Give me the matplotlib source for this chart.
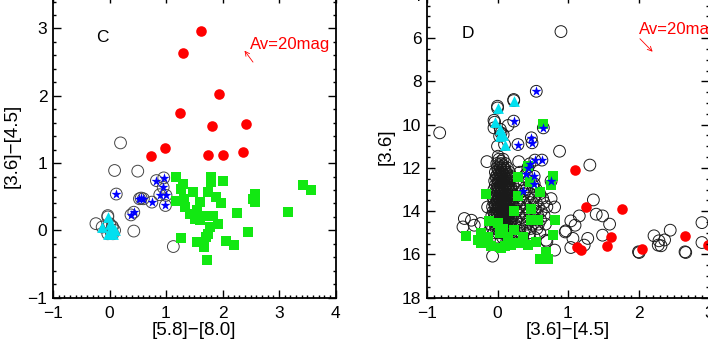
import matplotlib
matplotlib.use('Agg')
import matplotlib.pyplot as plt
from matplotlib.ticker import MultipleLocator

plt.rcParams['font.family'] = ['Liberation Sans', 'DejaVu Sans']

# ---------------------------------------------------------------
# Panel C: [5.8]-[8.0] vs [3.6]-[4.5]
# ---------------------------------------------------------------
c_red_x = [1.62, 1.30, 1.94, 1.24, 1.82, 2.41, 0.99, 0.74, 1.75, 2.00, 2.36]
c_red_y = [2.96, 2.63, 2.03, 1.74, 1.55, 1.58, 1.23, 1.10, 1.12, 1.12, 1.16]

c_open_x = [0.195, 0.09, 0.50, 0.43, 1.13, -0.24, -0.03, 0.05]
c_open_y = [1.30, 0.89, 0.88, -0.01, -0.24, 0.10, 0.22, 0.05]

c_star_x = [0.12, 0.83, 0.96, 0.95, 0.89, 1.00, 0.99, 0.53, 0.60, 0.75, 0.38, 0.43, 0.56]
c_star_y = [0.54, 0.74, 0.78, 0.64, 0.53, 0.52, 0.37, 0.47, 0.47, 0.42, 0.23, 0.27, 0.48]

c_tri_x = [-0.03, -0.13, 0.00, 0.03, 0.09, 0.06, -0.03, 0.05]
c_tri_y = [0.20, 0.05, 0.10, -0.03, 0.00, -0.05, -0.05, 0.06]

c_sq_x = [1.18, 1.79, 2.00, 1.80, 1.27, 1.48, 1.74, 1.89, 1.98, 2.57, 2.57, 2.54,
          1.18, 1.33, 1.54, 1.42, 1.51, 1.67, 1.83, 1.92, 1.77, 1.74, 1.71, 2.25,
          2.45, 1.27, 1.54, 1.68, 2.06, 2.20, 1.73, 3.16, 3.42, 3.56, 1.30, 1.60,
          1.60, 1.31]
c_sq_y = [0.79, 0.80, 0.74, 0.72, 0.62, 0.57, 0.57, 0.49, 0.40, 0.54, 0.42, 0.47,
          0.44, 0.35, 0.30, 0.25, 0.17, 0.22, 0.22, 0.10, 0.05, -0.05, -0.10, 0.26,
          -0.02, -0.12, -0.17, -0.24, -0.16, -0.22, -0.44, 0.27, 0.68, 0.60, 0.69, 0.42,
          0.15, 0.47]

# ---------------------------------------------------------------
# Panel D: [3.6]-[4.5] vs [3.6]
# ---------------------------------------------------------------
d_red_x = [1.10, 1.25, 1.76, 1.61, 1.56, 1.13, 1.18, 2.05, 2.66, 2.98]
d_red_y = [12.11, 13.81, 13.88, 15.19, 15.63, 15.65, 15.79, 15.76, 15.17, 15.57]

d_open_x = [0.90, -0.82, 0.88, 1.31, -0.15, 0.30, 1.36, 1.40, 1.49, 1.59,
            1.16, 1.04, 1.10, 0.97, 1.07, 1.28, 1.49, 1.23, 1.04, 2.22,
            2.29, 2.37, 2.32, 2.45, 2.01, 2.67, 2.90, 2.90, 0.96, 2.66,
            2.00, 2.28, -0.07, -0.47, -0.49, -0.37, -0.24, -0.14, -0.33, 0.81,
            0.76, 0.81, 0.69, 0.00, -0.05, -0.05, 0.15, 0.00, 0.01, 0.23]
d_open_y = [5.70, 10.38, 11.23, 11.87, 11.71, 11.71, 13.48, 14.14, 14.22, 14.60,
            14.22, 14.45, 14.65, 14.91, 15.26, 15.26, 15.11, 15.57, 15.68, 15.14,
            15.37, 15.33, 15.60, 14.88, 15.91, 15.91, 14.53, 15.45, 14.96, 15.88,
            15.88, 15.57, 16.08, 14.34, 14.73, 14.42, 14.57, 13.81, 14.65, 13.81,
            13.42, 15.80, 15.34, 9.15, 9.80, 10.15, 10.04, 11.00, 11.46, 8.84]

# dense clump of field sources near zero colour
d_clump_x = [0.02, 0.08,
             -0.01, 0.05, 0.11,
             0.00, 0.04, 0.09, 0.14,
             -0.03, 0.03, 0.07, 0.12, 0.17, 0.32,
             -0.02, 0.02, 0.06, 0.10, 0.15, 0.20, 0.38,
             -0.04, 0.01, 0.05, 0.09, 0.13, 0.18, 0.26, 0.44,
             -0.03, 0.00, 0.04, 0.08, 0.12, 0.16, 0.22, 0.31, 0.50,
             -0.05, -0.01, 0.03, 0.07, 0.11, 0.15, 0.19, 0.27, 0.41, 0.55,
             -0.04, 0.00, 0.04, 0.08, 0.12, 0.16, 0.21, 0.30, 0.38, 0.47, 0.60,
             -0.06, -0.02, 0.02, 0.06, 0.10, 0.14, 0.18, 0.24, 0.34, 0.43, 0.52, 0.64,
             -0.05, -0.01, 0.03, 0.07, 0.11, 0.15, 0.20, 0.28, 0.37, 0.46, 0.55, 0.66,
             -0.07, -0.03, 0.01, 0.05, 0.09, 0.13, 0.17, 0.23, 0.32, 0.41, 0.50, 0.58, 0.70,
             -0.06, -0.02, 0.02, 0.06, 0.10, 0.14, 0.19, 0.27, 0.36, 0.45, 0.53, 0.62,
             -0.08, -0.04, 0.00, 0.04, 0.08, 0.12, 0.16, 0.22, 0.31, 0.40, 0.49, 0.57, 0.66,
             -0.06, -0.02, 0.03, 0.07, 0.11, 0.15, 0.20, 0.26, 0.35, 0.44, 0.52, 0.61,
             -0.10, -0.04, 0.01, 0.05, 0.09, 0.13, 0.18, 0.24, 0.33, 0.42, 0.50, 0.58, 0.68,
             -0.07, -0.02, 0.03, 0.08, 0.14, 0.21, 0.30, 0.39, 0.47, 0.56,
             -0.05, 0.01, 0.06, 0.12, 0.19, 0.28, 0.37, 0.46, 0.60,
             0.00, 0.07, 0.15, 0.25, 0.35, 0.52,
             0.05, 0.13, 0.22, 0.33, 0.70,
             0.05, 0.03, 0.08, 0.01, 0.06, 0.11, 0.00, 0.05, 0.09, 0.14,
             -0.01, 0.04, 0.08, 0.12, 0.17, 0.02, 0.06, 0.10, 0.14,
             0.01, 0.05, 0.10, 0.14, 0.19, 0.01, 0.05, 0.09, 0.13, 0.17,
             -0.02, 0.02, 0.06, 0.10, 0.14, 0.19, 0.00, 0.04, 0.08, 0.12, 0.16,
             -0.03, 0.01, 0.05, 0.09, 0.13, 0.18, 0.00, 0.04, 0.08, 0.12, 0.16,
             -0.04, 0.00, 0.04, 0.08, 0.12, 0.17, 0.01, 0.05, 0.09, 0.13, 0.18,
             -0.03, 0.02, 0.06, 0.10, 0.14, 0.00, 0.05, 0.10, 0.16, 0.02, 0.09, 0.17]
d_clump_y = [11.6, 11.6,
             11.8, 11.8, 11.8,
             12.0, 12.0, 12.0, 12.0,
             12.2, 12.2, 12.2, 12.2, 12.2, 12.2,
             12.4, 12.4, 12.4, 12.4, 12.4, 12.4, 12.4,
             12.6, 12.6, 12.6, 12.6, 12.6, 12.6, 12.6, 12.6,
             12.8, 12.8, 12.8, 12.8, 12.8, 12.8, 12.8, 12.8, 12.8,
             13.0, 13.0, 13.0, 13.0, 13.0, 13.0, 13.0, 13.0, 13.0, 13.0,
             13.2, 13.2, 13.2, 13.2, 13.2, 13.2, 13.2, 13.2, 13.2, 13.2, 13.2,
             13.4, 13.4, 13.4, 13.4, 13.4, 13.4, 13.4, 13.4, 13.4, 13.4, 13.4, 13.4,
             13.6, 13.6, 13.6, 13.6, 13.6, 13.6, 13.6, 13.6, 13.6, 13.6, 13.6, 13.6,
             13.8, 13.8, 13.8, 13.8, 13.8, 13.8, 13.8, 13.8, 13.8, 13.8, 13.8, 13.8, 13.8,
             14.0, 14.0, 14.0, 14.0, 14.0, 14.0, 14.0, 14.0, 14.0, 14.0, 14.0, 14.0,
             14.2, 14.2, 14.2, 14.2, 14.2, 14.2, 14.2, 14.2, 14.2, 14.2, 14.2, 14.2, 14.2,
             14.4, 14.4, 14.4, 14.4, 14.4, 14.4, 14.4, 14.4, 14.4, 14.4, 14.4, 14.4,
             14.6, 14.6, 14.6, 14.6, 14.6, 14.6, 14.6, 14.6, 14.6, 14.6, 14.6, 14.6, 14.6,
             14.8, 14.8, 14.8, 14.8, 14.8, 14.8, 14.8, 14.8, 14.8, 14.8,
             15.0, 15.0, 15.0, 15.0, 15.0, 15.0, 15.0, 15.0, 15.0,
             15.2, 15.2, 15.2, 15.2, 15.2, 15.2,
             15.4, 15.4, 15.4, 15.4, 15.4,
             11.7, 11.9, 11.9, 12.1, 12.1, 12.1, 12.3, 12.3, 12.3, 12.3,
             12.5, 12.5, 12.5, 12.5, 12.5, 12.7, 12.7, 12.7, 12.7,
             12.9, 12.9, 12.9, 12.9, 12.9, 13.1, 13.1, 13.1, 13.1, 13.1,
             13.3, 13.3, 13.3, 13.3, 13.3, 13.3, 13.5, 13.5, 13.5, 13.5, 13.5,
             13.7, 13.7, 13.7, 13.7, 13.7, 13.7, 13.9, 13.9, 13.9, 13.9, 13.9,
             14.1, 14.1, 14.1, 14.1, 14.1, 14.1, 14.3, 14.3, 14.3, 14.3, 14.3,
             14.5, 14.5, 14.5, 14.5, 14.5, 14.7, 14.7, 14.7, 14.7, 14.9, 14.9, 14.9]

d_star_x = [0.55, 0.29, 0.23, 0.48, 0.49, 0.65, 0.53, 0.63, 0.46, 0.41,
            0.52, 0.52, 0.76, 0.36, 0.43]
d_star_y = [8.46, 10.92, 9.84, 10.61, 10.84, 10.15, 11.64, 11.64, 11.81, 12.27,
            12.39, 12.73, 12.61, 13.07, 11.99]

d_tri_x = [0.00, 0.23, -0.04, 0.04, 0.08, 0.03, 0.10, 0.05]
d_tri_y = [9.23, 8.89, 9.89, 10.22, 10.46, 10.53, 10.92, 10.38]

d_sq_x = [0.64, 0.43, -0.16, 0.29, 0.46, 0.60, 0.79, 0.76, 0.29, 0.24,
          0.48, 0.48, 0.57, 0.81, 0.79, -0.12, -0.45, 0.00, -0.23, -0.23,
          -0.09, 0.03, 0.15, 0.10, 0.24, 0.19, 0.29, 0.36, 0.43, 0.55,
          0.60, 0.72, 0.69, -0.28, 0.05, 0.08, -0.14]
d_sq_y = [9.95, 11.92, 13.19, 12.42, 12.65, 13.11, 12.39, 12.81, 13.31, 13.99,
          13.88, 14.42, 14.42, 14.39, 15.11, 14.47, 15.16, 14.57, 15.03, 15.49,
          15.62, 15.03, 15.19, 15.62, 14.88, 15.57, 15.49, 15.19, 15.57, 15.42,
          16.19, 16.23, 15.88, 15.34, 15.72, 14.81, 15.19]

RED = '#ff0000'
GREEN = '#12e812'
BLUE = '#0000ff'
CYAN = '#00e0f0'


def style_axes(ax, xminor, yminor):
    ax.xaxis.set_major_locator(MultipleLocator(1))
    ax.xaxis.set_minor_locator(MultipleLocator(xminor))
    ax.yaxis.set_minor_locator(MultipleLocator(yminor))
    ax.tick_params(which='both', direction='in', top=True, right=True,
                   width=1.0, labelsize=12.5)
    ax.tick_params(which='major', length=5.5)
    ax.tick_params(which='minor', length=2.5)
    ax.tick_params(axis='x', pad=6)
    ax.tick_params(axis='y', pad=4)
    for s in ax.spines.values():
        s.set_linewidth(1.3)


def draw(ax, ox, oy, cx, cy, sx, sy, tx, ty, qx, qy, rx, ry, edge):
    circ = dict(s=72, facecolors='none', edgecolors=edge, linewidths=0.7)
    ax.scatter(ox, oy, **circ)
    ax.scatter(sx, sy, **circ)
    ax.scatter(tx, ty, **circ)
    if cx is not None:
        ax.scatter(cx, cy, **circ)
    ax.scatter(qx, qy, s=44, marker='s', color=GREEN, linewidths=0)
    ax.scatter(rx, ry, s=58, marker='o', color=RED, linewidths=0)
    ax.scatter(sx, sy, s=58, marker='*', color=BLUE, linewidths=0)
    ax.scatter(tx, ty, s=60, marker='^', color=CYAN, linewidths=0)


fig = plt.figure(figsize=(7.08, 3.42), dpi=100)
fig.patch.set_facecolor('white')

ax1 = fig.add_axes([53 / 708, 44.3 / 342, 282.5 / 708, 302.9 / 342])
draw(ax1, c_open_x, c_open_y, None, None, c_star_x, c_star_y,
     c_tri_x, c_tri_y, c_sq_x, c_sq_y, c_red_x, c_red_y, '#444444')
ax1.set_xlim(-1, 4)
ax1.set_ylim(-1, 3.5)
ax1.yaxis.set_major_locator(MultipleLocator(1))
style_axes(ax1, 0.1, 0.2)
ax1.set_xlabel('[5.8]\u2212[8.0]', fontsize=13.5, labelpad=1)
ax1.set_ylabel('[3.6]\u2212[4.5]', fontsize=13.5, labelpad=5)
ax1.text(-0.12, 2.86, 'C', fontsize=12.5, ha='center', va='center')
ax1.text(2.49, 2.76, 'Av=20mag', color=RED, fontsize=12, ha='left', va='center')
ax1.annotate('', xy=(2.39, 2.67), xytext=(2.54, 2.50),
             arrowprops=dict(arrowstyle='->', color=RED, lw=0.6,
                             shrinkA=0, shrinkB=0, mutation_scale=8))

ax2 = fig.add_axes([427 / 708, 44.3 / 342, 282 / 708, 302.9 / 342])
draw(ax2, d_open_x, d_open_y, d_clump_x, d_clump_y, d_star_x, d_star_y,
     d_tri_x, d_tri_y, d_sq_x, d_sq_y, d_red_x, d_red_y, '#1a1a1a')
ax2.set_xlim(-1, 3)
ax2.set_ylim(18, 4)
ax2.yaxis.set_major_locator(MultipleLocator(2))
style_axes(ax2, 0.1, 0.5)
ax2.set_xlabel('[3.6]\u2212[4.5]', fontsize=13.5, labelpad=1)
ax2.set_ylabel('[3.6]', fontsize=13.5, labelpad=5)
ax2.text(-0.42, 5.8, 'D', fontsize=12.5, ha='center', va='center')
ax2.text(2.0, 5.62, 'Av=20mag', color=RED, fontsize=12, ha='left', va='center')
ax2.annotate('', xy=(2.20, 6.63), xytext=(2.02, 6.03),
             arrowprops=dict(arrowstyle='->', color=RED, lw=0.6,
                             shrinkA=0, shrinkB=0, mutation_scale=8))

fig.savefig('out.png', dpi=100)
